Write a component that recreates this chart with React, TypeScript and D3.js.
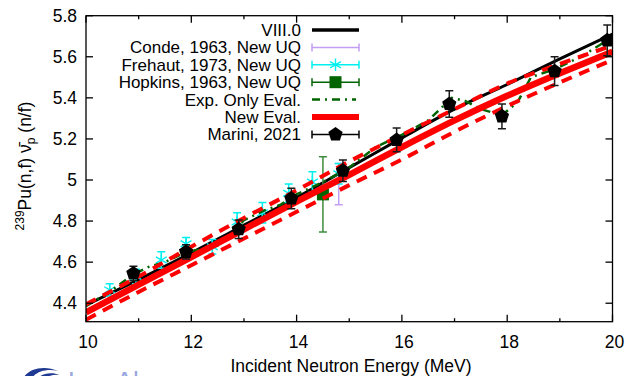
import React, { useEffect, useRef } from 'react'
import * as d3 from 'd3'

// evaluated curves on a 1 MeV grid
const evalE = [10, 11, 12, 13, 14, 15, 16, 17, 18, 19, 20]
const viii0 = [4.39, 4.515, 4.645, 4.78, 4.915, 5.06, 5.205, 5.345, 5.465, 5.59, 5.71]
const newEval = [4.355, 4.49, 4.625, 4.76, 4.895, 5.025, 5.16, 5.29, 5.41, 5.52, 5.625]
const newEvalUp = [4.395, 4.53, 4.675, 4.815, 4.95, 5.09, 5.22, 5.345, 5.47, 5.565, 5.655]
const newEvalLo = [4.32, 4.455, 4.585, 4.715, 4.845, 4.975, 5.1, 5.235, 5.36, 5.475, 5.585]

// experiment-only evaluation
const expE = [10, 10.5, 10.9, 11.2, 11.5, 11.9, 12.2, 12.5, 12.8, 13.0, 13.4, 13.7, 14.0, 14.5, 15.0, 15.5, 16.0, 16.5, 16.95, 17.2, 17.5, 17.9, 18.2, 18.45, 18.9, 19.4, 19.9, 20]
const expVal = [4.385, 4.465, 4.54, 4.578, 4.6, 4.65, 4.663, 4.68, 4.74, 4.805, 4.853, 4.88, 4.93, 4.99, 5.06, 5.16, 5.22, 5.29, 5.4, 5.385, 5.345, 5.315, 5.38, 5.5, 5.54, 5.6, 5.68, 5.69]

// measurements
const condeE = [14.8]
const condeVal = [4.98]
const condeErr = [0.1]

const frehautE = [10.45, 10.95, 11.43, 11.9, 12.4, 12.87, 13.35, 13.85, 14.3, 14.8]
const frehautVal = [4.465, 4.53, 4.61, 4.69, 4.675, 4.795, 4.84, 4.935, 4.99, 5.03]
const frehautErr = [0.03, 0.035, 0.04, 0.03, 0.035, 0.045, 0.05, 0.045, 0.05, 0.05]

const hopkinsE = [14.5]
const hopkinsVal = [4.93]
const hopkinsErr = [0.183]

const mariniE = [10.9, 11.9, 12.9, 13.9, 14.88, 15.9, 16.9, 17.9, 18.9, 19.9]
const mariniVal = [4.545, 4.65, 4.76, 4.91, 5.045, 5.195, 5.37, 5.31, 5.53, 5.68]
const mariniErr = [0.035, 0.035, 0.045, 0.05, 0.052, 0.058, 0.065, 0.06, 0.07, 0.075]

const xTicks = [10, 12, 14, 16, 18, 20]
const xMinor = [11, 13, 15, 17, 19]
const yTicks = [4.4, 4.6, 4.8, 5, 5.2, 5.4, 5.6, 5.8]

const legendNames = ['VIII.0', 'Conde, 1963, New UQ', 'Frehaut, 1973, New UQ', 'Hopkins, 1963, New UQ', 'Exp. Only Eval.', 'New Eval.', 'Marini, 2021']

const FONT = '"Liberation Sans", Arial, sans-serif'
const LAV = '#c29ef5'
const CYAN = '#00f0f0'
const DGREEN = '#006400'
const HGREEN = '#3d8b3d'

function pentagon(r: number) {
  const pts = d3.range(5).map(i => {
    const a = -Math.PI / 2 + (i * 2 * Math.PI) / 5
    return [r * Math.cos(a), r * Math.sin(a)]
  })
  return 'M' + pts.map(p => p.join(',')).join('L') + 'Z'
}

export default function App() {
  const ref = useRef<SVGSVGElement>(null)

  useEffect(() => {
    const svg = d3.select(ref.current)
    svg.selectAll('*').remove()

    const x = d3.scaleLinear().domain([10, 20]).range([86, 612.5])
    const y = d3.scaleLinear().domain([4.31, 5.8]).range([321.7, 15.7])

    svg.append('defs').append('clipPath').attr('id', 'plotclip')
      .append('rect').attr('x', 86).attr('y', 15.7).attr('width', 526.5).attr('height', 306)

    const plot = svg.append('g').attr('clip-path', 'url(#plotclip)')

    const line = (xs: number[], ys: number[]) =>
      d3.line<number>().x((d, i) => x(xs[i])).y(d => y(d)).curve(d3.curveMonotoneX)(ys)

    const straight = (xs: number[], ys: number[]) =>
      d3.line<number>().x((d, i) => x(xs[i])).y(d => y(d))(ys)

    // VIII.0
    plot.append('path').attr('d', line(evalE, viii0)).attr('fill', 'none')
      .attr('stroke', '#000').attr('stroke-width', 3)

    function errorPoints(xs: number[], vs: number[], es: number[], color: string, cap: number, sw: number) {
      const g = plot.append('g')
      xs.forEach((e, i) => {
        const cx = x(e)
        const y0 = y(vs[i] - es[i]), y1 = y(vs[i] + es[i])
        g.append('line').attr('x1', cx).attr('x2', cx).attr('y1', y0).attr('y2', y1)
          .attr('stroke', color).attr('stroke-width', sw)
        ;[y0, y1].forEach(yy => g.append('line').attr('x1', cx - cap).attr('x2', cx + cap)
          .attr('y1', yy).attr('y2', yy).attr('stroke', color).attr('stroke-width', sw))
      })
      return g
    }

    // Conde
    errorPoints(condeE, condeVal, condeErr, LAV, 4, 1.5)
    plot.selectAll('.conde').data(condeE).enter().append('path')
      .attr('d', d3.symbol(d3.symbolPlus, 70)())
      .attr('transform', (d, i) => `translate(${x(d)},${y(condeVal[i])})`)
      .attr('fill', LAV)

    // Frehaut
    errorPoints(frehautE, frehautVal, frehautErr, CYAN, 4, 1.5)
    plot.selectAll('.freh').data(frehautE).enter().append('path')
      .attr('d', d3.symbol(d3.symbolAsterisk, 110)())
      .attr('transform', (d, i) => `translate(${x(d)},${y(frehautVal[i])})`)
      .attr('fill', 'none').attr('stroke', CYAN).attr('stroke-width', 1.4)

    // Hopkins
    errorPoints(hopkinsE, hopkinsVal, hopkinsErr, HGREEN, 4, 1.5)
    plot.selectAll('.hop').data(hopkinsE).enter().append('rect')
      .attr('x', d => x(d) - 6).attr('y', (d, i) => y(hopkinsVal[i]) - 6)
      .attr('width', 12).attr('height', 12).attr('fill', DGREEN)

    // Exp. only eval
    plot.append('path').attr('d', straight(expE, expVal)).attr('fill', 'none')
      .attr('stroke', DGREEN).attr('stroke-width', 2.5).attr('stroke-dasharray', '8,5,2,5')

    // New eval + band
    plot.append('path').attr('d', line(evalE, newEval)).attr('fill', 'none')
      .attr('stroke', '#ff0000').attr('stroke-width', 6.5)
    ;[newEvalUp, newEvalLo].forEach(vals => {
      plot.append('path').attr('d', line(evalE, vals)).attr('fill', 'none')
        .attr('stroke', '#ff0000').attr('stroke-width', 4).attr('stroke-dasharray', '11,8')
    })

    // Marini
    errorPoints(mariniE, mariniVal, mariniErr, '#1a1a1a', 4, 1.5)
    plot.selectAll('.mar').data(mariniE).enter().append('path')
      .attr('d', pentagon(7.5))
      .attr('transform', (d, i) => `translate(${x(d)},${y(mariniVal[i])})`)
      .attr('fill', '#000')

    // frame and ticks
    const axes = svg.append('g').attr('stroke', '#000').attr('stroke-width', 1.3)
    axes.append('rect').attr('x', 86).attr('y', 15.7).attr('width', 526.5).attr('height', 306)
      .attr('fill', 'none')
    xTicks.concat(xMinor).forEach(t => {
      const len = xMinor.includes(t) ? 3.5 : 7
      axes.append('line').attr('x1', x(t)).attr('x2', x(t)).attr('y1', 321.7).attr('y2', 321.7 - len)
      axes.append('line').attr('x1', x(t)).attr('x2', x(t)).attr('y1', 15.7).attr('y2', 15.7 + len)
    })
    yTicks.forEach(t => {
      axes.append('line').attr('x1', 86).attr('x2', 93).attr('y1', y(t)).attr('y2', y(t))
      axes.append('line').attr('x1', 612.5).attr('x2', 605.5).attr('y1', y(t)).attr('y2', y(t))
    })

    const txt = svg.append('g').attr('font-family', FONT).attr('font-size', 17.5).attr('fill', '#000')
    xTicks.forEach(t => txt.append('text').attr('x', x(t) + 2).attr('y', 348)
      .attr('text-anchor', 'middle').text(d3.format('~g')(t)))
    yTicks.forEach(t => txt.append('text').attr('x', 77).attr('y', y(t) + 6)
      .attr('text-anchor', 'end').text(d3.format('~g')(t)))

    txt.append('text').attr('x', 351).attr('y', 372).attr('text-anchor', 'middle')
      .text('Incident Neutron Energy (MeV)')

    const yl = txt.append('text').attr('transform', 'translate(31,166) rotate(-90)')
      .attr('text-anchor', 'middle')
    yl.append('tspan').attr('font-size', 12).attr('dy', -7).text('239')
    yl.append('tspan').attr('dy', 7).text('Pu(n,f) \u03bd\u0304')
    yl.append('tspan').attr('font-size', 12).attr('dy', 4).text('p')
    yl.append('tspan').attr('dy', -4).text(' (n/f)')

    // legend
    const lg = svg.append('g')
    const sx0 = 312, sx1 = 359, sm = (sx0 + sx1) / 2
    legendNames.forEach((name, i) => {
      const ly = 30 + i * 17.4
      txt.append('text').attr('x', 301).attr('y', ly + 6).attr('text-anchor', 'end')
        .attr('font-size', 17).text(name)
      const withBars = (color: string) => {
        lg.append('line').attr('x1', sx0).attr('x2', sx1).attr('y1', ly).attr('y2', ly)
          .attr('stroke', color).attr('stroke-width', 1.5)
        ;[sx0, sx1].forEach(xx => lg.append('line').attr('x1', xx).attr('x2', xx)
          .attr('y1', ly - 4).attr('y2', ly + 4).attr('stroke', color).attr('stroke-width', 1.5))
      }
      if (i === 0) {
        lg.append('line').attr('x1', sx0).attr('x2', sx1).attr('y1', ly).attr('y2', ly)
          .attr('stroke', '#000').attr('stroke-width', 3.5)
      } else if (i === 1) {
        withBars(LAV)
        lg.append('path').attr('d', d3.symbol(d3.symbolPlus, 70)())
          .attr('transform', `translate(${sm},${ly})`).attr('fill', LAV)
      } else if (i === 2) {
        withBars(CYAN)
        lg.append('path').attr('d', d3.symbol(d3.symbolAsterisk, 110)())
          .attr('transform', `translate(${sm},${ly})`).attr('fill', 'none')
          .attr('stroke', CYAN).attr('stroke-width', 1.4)
      } else if (i === 3) {
        withBars(DGREEN)
        lg.append('rect').attr('x', sm - 6).attr('y', ly - 6).attr('width', 12).attr('height', 12)
          .attr('fill', DGREEN)
      } else if (i === 4) {
        lg.append('line').attr('x1', sx0).attr('x2', sx1 - 3).attr('y1', ly).attr('y2', ly)
          .attr('stroke', DGREEN).attr('stroke-width', 2.5).attr('stroke-dasharray', '8,5,2,5')
      } else if (i === 5) {
        lg.append('line').attr('x1', sx0).attr('x2', sx1).attr('y1', ly).attr('y2', ly)
          .attr('stroke', '#ff0000').attr('stroke-width', 6)
      } else {
        withBars('#000')
        lg.append('path').attr('d', pentagon(7.5))
          .attr('transform', `translate(${sm},${ly})`).attr('fill', '#000')
      }
    })

    // cut-off logo at bottom-left
    const logo = svg.append('g')
    logo.append('path').attr('d', 'M22,382 C24,370 42,364 58,371 C46,368 33,372 30,382 Z').attr('fill', '#1f3a93')
    logo.append('path').attr('d', 'M36,382 C38,374 50,371 60,375 C52,374 44,377 42,382 Z').attr('fill', '#1f3a93')
    logo.append('text').attr('x', 68).attr('y', 390).attr('font-family', FONT)
      .attr('font-size', 26).attr('fill', '#9aa6e0').text('Los Alamos')
  }, [])

  return (
    <div style={{ position: 'fixed', left: 0, top: 0 }}>
      <svg ref={ref} width={626} height={376} style={{ display: 'block', background: '#fff' }} />
    </div>
  )
}
